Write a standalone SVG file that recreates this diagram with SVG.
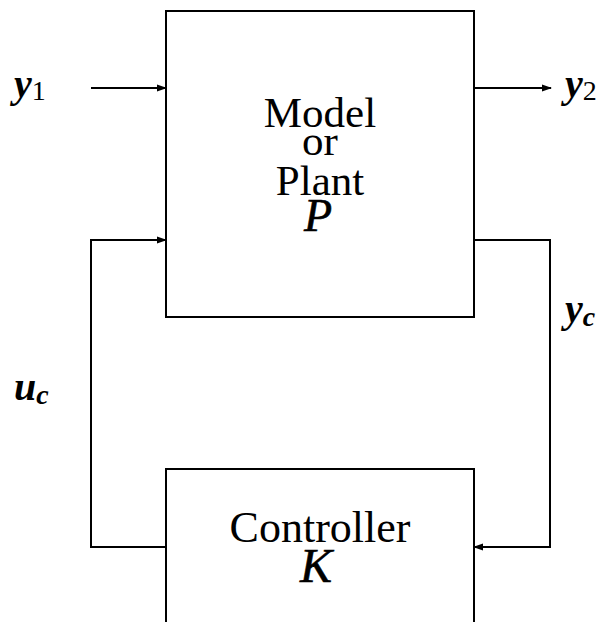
<svg xmlns="http://www.w3.org/2000/svg" width="604" height="622" viewBox="0 0 604 622">
<style>
.box{fill:none;stroke:#000;stroke-width:2}
.wire{fill:none;stroke:#000;stroke-width:2}
.txt{font-family:"Liberation Serif","Times New Roman",serif;fill:#000;text-anchor:middle}
.math{font-family:"Liberation Serif","Times New Roman",serif;font-style:italic;fill:#000;stroke:#000;stroke-width:0.6}
.lab{font-family:"Liberation Serif","Times New Roman",serif;font-style:italic;font-weight:bold;fill:#000}
.sub{font-style:normal;font-weight:normal}
</style>
<defs>
<marker id="ah" markerWidth="10" markerHeight="8" refX="9" refY="4" orient="auto" markerUnits="userSpaceOnUse">
<path d="M0,0.5 L10,4 L0,7.5 Z" fill="#000"/>
</marker>
</defs>
<rect width="604" height="622" fill="#fff"/>
<g id="plant">
<rect class="box" x="166" y="11" width="308" height="306"/>
<text class="txt" x="320" y="127" font-size="43">Model</text>
<text class="txt" x="320" y="155" font-size="43">or</text>
<text class="txt" x="320" y="195" font-size="43">Plant</text>
<text class="math" x="318" y="231" font-size="46" text-anchor="middle">P</text>
</g>
<g id="controller">
<path class="box" d="M166,622 L166,469 L474,469 L474,622"/>
<text class="txt" x="320" y="542" font-size="44">Controller</text>
<text class="math" x="316" y="582" font-size="48" text-anchor="middle">K</text>
</g>
<g id="connectors">
<line class="wire" x1="91" y1="88" x2="166" y2="88" marker-end="url(#ah)"/>
<line class="wire" x1="474" y1="88" x2="551" y2="88" marker-end="url(#ah)"/>
<path class="wire" d="M166,547 L91,547 L91,240 L166,240" marker-end="url(#ah)"/>
<path class="wire" d="M474,240 L550,240 L550,547 L474,547" marker-end="url(#ah)"/>
</g>
<g id="labels">
<text class="lab" x="14" y="97" font-size="40">y<tspan class="sub" dy="3" font-size="28">1</tspan></text>
<text class="lab" x="565" y="97" font-size="40">y<tspan class="sub" dy="3" font-size="28">2</tspan></text>
<text class="lab" x="565" y="322" font-size="40">y<tspan dy="4" font-size="28">c</tspan></text>
<text class="lab" x="14" y="400" font-size="40">u<tspan dy="4" font-size="28">c</tspan></text>
</g>
</svg>
